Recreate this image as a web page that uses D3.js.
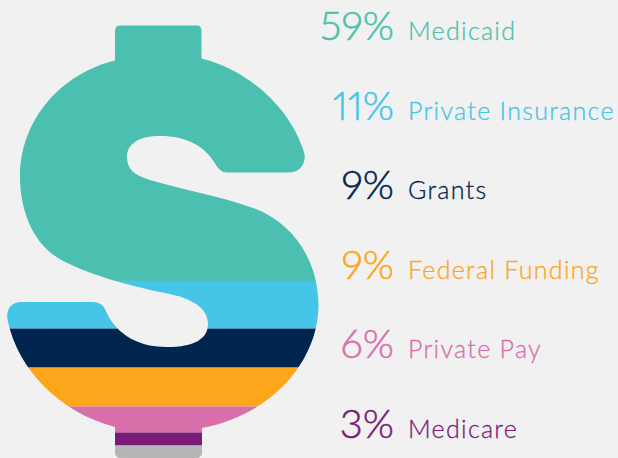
<!DOCTYPE html>
<html>
<head>
<meta charset="utf-8">
<script src="https://cdn.jsdelivr.net/npm/d3@7"></script>
<style>
  html, body { margin: 0; padding: 0; background: #f1f1f1; overflow: hidden; }
  svg { display: block; }
  text { font-family: Lato, "Open Sans", sans-serif; font-variant-numeric: proportional-nums; }
</style>
</head>
<body>
<svg id="chart"></svg>
<script>
const categories = ["Medicaid", "Private Insurance", "Grants", "Federal Funding", "Private Pay", "Medicare"];
const shares = [59, 11, 9, 9, 6, 3];
const bandColors = ["#4cc0b0", "#45c5e7", "#00264f", "#fca61c", "#d86fab", "#7b1b79"];
// grey foot of the dollar sign is what is left of the 100%, it has no label
const restColor = "#b5b6b8";

const width = 618;
const height = 458;
const svg = d3.select("#chart").attr("width", width).attr("height", height);

// outline of the dollar sign
const dollar =
  "M121,25 H196 Q201.5,25 201.5,31 V58.5 " +
  "C248,70 290,107 304,152 C307,163 300,172.5 290,172.5 H227 " +
  "C222,172.5 218.5,169 216,165 C205,146 187,136 160,136 " +
  "C140,136 127,143 127,157 C127,169 134,175 150,180 " +
  "C180,189 220,196 253,208 C292,222 319,260 318.5,307 " +
  "C317,365 268,416 202,428 V452 Q202,458 196,458 H121 Q115,458 115,452 V427 " +
  "C58,412 18,368 8,322 C5,310 11,302 21,302 H93 " +
  "C99,302 103,305 105,309 C114,331 134,347 167,347 " +
  "C194,347 208,339 208,324 C208,305 186,297 165,293 " +
  "C130,286 85,274 58,258 C33,243 20,210 20,177 " +
  "C20,118 63,73 115,60.5 V31 Q115,25 121,25 Z";

svg.append("clipPath").attr("id", "dollarClip").append("path").attr("d", dollar);

const y = d3.scaleLinear().domain([0, 100]).range([25.5, 458.5]);

let running = 0;
const bands = shares.map((s, i) => {
  const b = { start: running, end: running + s, color: bandColors[i] };
  running += s;
  return b;
});
bands.push({ start: running, end: 100, color: restColor });

svg.append("g")
  .attr("clip-path", "url(#dollarClip)")
  .selectAll("rect")
  .data(bands)
  .enter()
  .append("rect")
  .attr("x", 0)
  .attr("width", 330)
  .attr("y", (d) => y(d.start))
  .attr("height", (d) => y(d.end) - y(d.start))
  .attr("fill", (d) => d.color);

const row = d3.scalePoint().domain(categories).range([40, 438]);

const legend = svg.selectAll(".row")
  .data(categories)
  .enter()
  .append("g")
  .attr("class", "row")
  .attr("transform", (d) => `translate(0,${row(d)})`)
  .attr("fill", (d, i) => bandColors[i])
  .attr("stroke", (d, i) => bandColors[i]);

legend.append("text")
  .attr("x", 394)
  .attr("text-anchor", "end")
  .attr("font-size", 40)
  .attr("font-weight", 300)
  .attr("stroke-width", 0.5)
  .attr("letter-spacing", 0)
  .text((d, i) => `${shares[i]}%`);

legend.append("text")
  .attr("x", 408)
  .attr("font-size", 25)
  .attr("font-weight", 300)
  .attr("stroke-width", 0.3)
  .attr("letter-spacing", 1.3)
  .text((d) => d);
</script>
</body>
</html>
